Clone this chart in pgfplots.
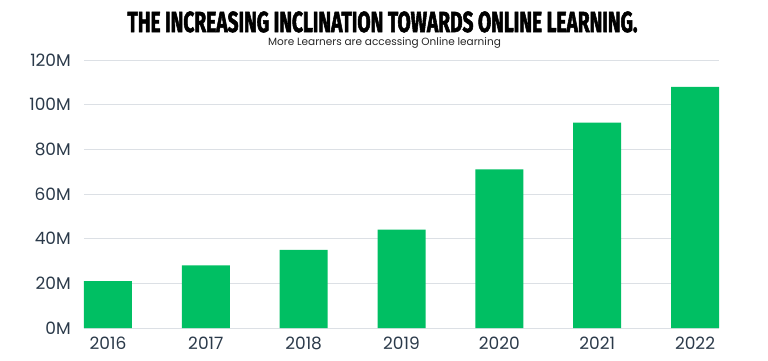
\documentclass[border=0pt]{standalone}
\usepackage{pgfplots}
\pgfplotsset{compat=1.18}
\usepackage{fontspec}
\setmainfont{Poppins}
\newfontfamily\titlefont[FakeStretch=0.66,FakeBold=1.8]{Fira Sans}
\definecolor{bargreen}{HTML}{00BF63}
\definecolor{ticktext}{HTML}{2B3A4A}
\definecolor{gridc}{HTML}{DCE0E5}
\definecolor{axisc}{HTML}{BCC3CA}
\begin{document}
\begin{tikzpicture}
\path[use as bounding box] (-84pt,-32pt) rectangle (684pt,328pt);
\begin{axis}[
  at={(0pt,0pt)}, anchor=south west,
  scale only axis, width=635pt, height=268pt,
  xmin=-0.245, xmax=6.245, ymin=0, ymax=120,
  ybar, bar width=48pt,
  axis line style={draw=none},
  major tick length=0pt,
  xtick=data,
  xticklabels={2016,2017,2018,2019,2020,2021,2022},
  ytick={0,20,40,60,80,100,120},
  yticklabels={0M,20M,40M,60M,80M,100M,120M},
  ymajorgrids,
  major grid style={gridc, line width=1pt},
  extra y ticks={0},
  extra y tick labels={},
  extra y tick style={grid style={axisc, line width=1.3pt}},
  tick label style={font=\fontsize{17}{17}\selectfont, text=ticktext},
  yticklabel style={inner sep=0pt, xshift=-13pt},
  xticklabel style={inner sep=0pt, yshift=-9pt},
  clip=false,
]
\addplot[fill=bargreen, draw=none] coordinates {(0,21) (1,28) (2,35) (3,44) (4,71) (5,92) (6,108)};
\end{axis}
\node[anchor=base, font=\titlefont\bfseries\fontsize{29}{29}\selectfont] at (298.5pt,296pt) {THE INCREASING INCLINATION TOWARDS ONLINE LEARNING.};
\node[anchor=base, font=\fontsize{10.5}{10.5}\selectfont, text=black!85] at (300.5pt,283pt) {More Learners are accessing Online learning};
\end{tikzpicture}
\end{document}
